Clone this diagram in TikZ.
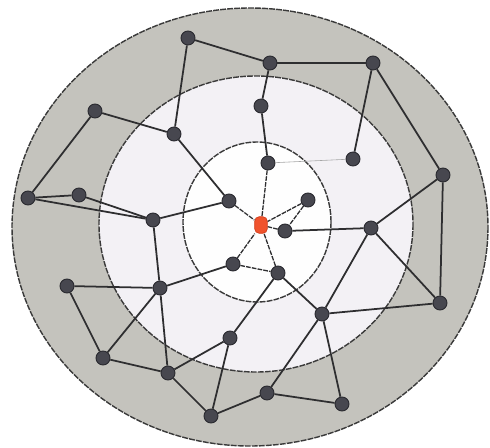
\documentclass[tikz,border=0pt]{standalone}
\usepackage{xcolor}
\usepackage{tikz}
\definecolor{band}{HTML}{C4C3BD}
\definecolor{mid}{HTML}{F3F1F5}
\definecolor{core}{HTML}{FEFEFE}
\definecolor{rim}{HTML}{3A3A3A}
\definecolor{wire}{HTML}{2E2E30}
\definecolor{dot}{HTML}{47474F}
\definecolor{dotrim}{HTML}{2A2A30}
\definecolor{sinkfill}{HTML}{F0532D}
\definecolor{sinkrim}{HTML}{D23E1C}

\begin{document}
\begin{tikzpicture}[x=0.03cm,y=-0.03cm,
  peer/.style={circle,fill=dot,draw=dotrim,line width=0.8pt,minimum size=0.42cm,inner sep=0pt},
  sink/.style={rectangle,rounded corners=4pt,fill=sinkfill,draw=sinkrim,line width=0.6pt,minimum width=0.38cm,minimum height=0.5cm,inner sep=0pt},
  link/.style={draw=wire,line width=1.5pt},
  inlink/.style={draw=wire,line width=1.1pt,dash pattern=on 4pt off 1pt},
  faint/.style={draw=gray!70,line width=0.5pt},
  ring/.style={draw=rim,line width=1.2pt,dash pattern=on 5pt off 1pt}]
\useasboundingbox[fill=white] (0,0) rectangle (490,448);
% rings
\draw[ring,fill=band] (250,227) ellipse [x radius=238,y radius=219];
\draw[ring,fill=mid] (256,224) ellipse [x radius=157,y radius=148];
\draw[ring,fill=core] (257,222) ellipse [x radius=74,y radius=80];
% outer band
\node[peer] (o1) at (188,38) {};
\node[peer] (o2) at (270,63) {};
\node[peer] (o3) at (373,63) {};
\node[peer] (o4) at (95,111) {};
\node[peer] (o5) at (443,175) {};
\node[peer] (o6) at (28,198) {};
\node[peer] (o7) at (79,195) {};
\node[peer] (o8) at (67,286) {};
\node[peer] (o9) at (440,303) {};
\node[peer] (o10) at (103,358) {};
\node[peer] (o11) at (168,373) {};
\node[peer] (o12) at (267,393) {};
\node[peer] (o13) at (342,404) {};
\node[peer] (o14) at (211,416) {};
% middle band
\node[peer] (m1) at (174,134) {};
\node[peer] (m2) at (261,106) {};
\node[peer] (m3) at (353,159) {};
\node[peer] (m4) at (153,220) {};
\node[peer] (m5) at (371,228) {};
\node[peer] (m6) at (160,288) {};
\node[peer] (m7) at (322,314) {};
\node[peer] (m8) at (230,338) {};
% core
\node[peer] (i1) at (268,163) {};
\node[peer] (i2) at (229,201) {};
\node[peer] (i3) at (308,200) {};
\node[peer] (i4) at (285,231) {};
\node[peer] (i5) at (233,264) {};
\node[peer] (i6) at (278,273) {};
\node[sink] (hub) at (261,225) {};
% connectors
\foreach \a/\b in {o1/o2,o1/m1,o2/o3,o2/m2,o3/m3,o3/o5,o4/m1,o4/o6,o6/o7,o6/m4,o7/m4,
  m1/i2,m2/i1,o5/m5,o5/o9,m4/i2,m4/m6,o8/m6,o8/o10,o10/m6,m6/o11,m6/i5,o10/o11,
  o11/o14,o11/m8,m8/o14,m8/i6,o14/o12,i4/m5,m5/o9,m5/m7,o9/m7,i6/m7,m7/o12,m7/o13,o12/o13}
  \draw[link] (\a) -- (\b);
\foreach \a/\b in {i1/hub,i2/hub,i3/hub,i3/i4,i4/hub,i5/hub,i6/hub,i5/i6}
  \draw[inlink] (\a) -- (\b);
\draw[faint] (i1) -- (m3);
\end{tikzpicture}
\end{document}
